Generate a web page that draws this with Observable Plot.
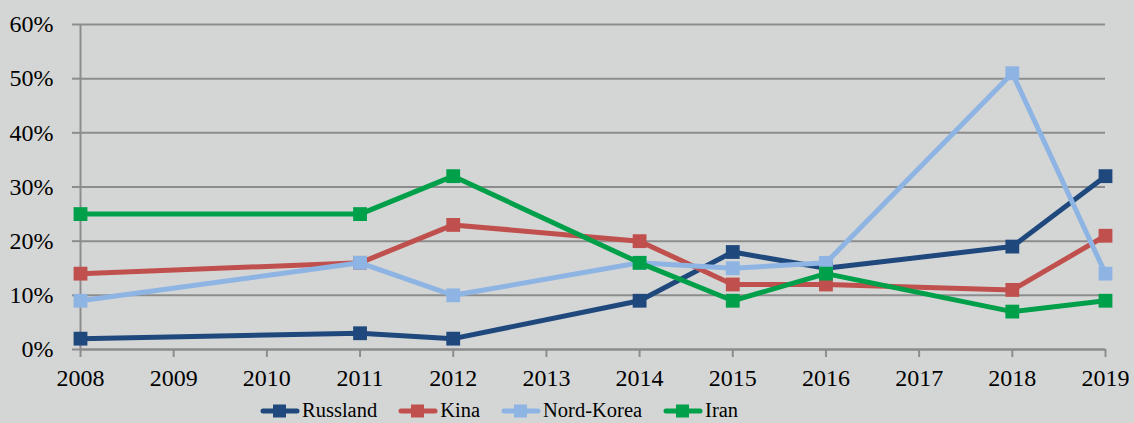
<!DOCTYPE html>
<html>
<head>
<meta charset="utf-8">
<script src="https://cdn.jsdelivr.net/npm/d3@7"></script>
<script src="https://cdn.jsdelivr.net/npm/@observablehq/plot@0.6"></script>
<style>
  html, body { margin: 0; padding: 0; background: #d4d6d5; }
  body { width: 1134px; height: 423px; overflow: hidden; font-family: "Liberation Serif", "Times New Roman", Times, "DejaVu Serif", serif; }
  #legend { display: flex; justify-content: flex-start; align-items: center; height: 25px; margin-top: 2px; font-size: 20.5px; color: #000; padding-left: 260px; }
  .item { display: flex; align-items: center; margin-right: 21px; }
  .item svg { margin-right: 2px; }
  svg text { font-family: "Liberation Serif", "Times New Roman", Times, "DejaVu Serif", serif !important; }
</style>
</head>
<body>
<div id="chart"></div>
<div id="legend"></div>
<script>
const years = [2008, 2011, 2012, 2014, 2015, 2016, 2018, 2019];
const seriesNames = ["Russland", "Kina", "Nord-Korea", "Iran"];
const russland = [2, 3, 2, 9, 18, 15, 19, 32];
const kina = [14, 16, 23, 20, 12, 12, 11, 21];
const nordKorea = [9, 16, 10, 16, 15, 16, 51, 14];
const iran = [25, 25, 32, 16, 9, 14, 7, 9];
const colors = ["#1f497d", "#c0504d", "#8eb4e3", "#00a04a"];
const yTicks = [0, 10, 20, 30, 40, 50, 60];
const xTicks = [2008, 2009, 2010, 2011, 2012, 2013, 2014, 2015, 2016, 2017, 2018, 2019];

const seriesValues = [russland, kina, nordKorea, iran];
const data = [];
seriesNames.forEach((s, i) => years.forEach((y, j) => data.push({series: s, year: y, value: seriesValues[i][j]})));

const gridColor = "#8c8c8c";
const marks = [
  Plot.gridY(yTicks, {stroke: gridColor, strokeOpacity: 1, strokeWidth: 2}),
  Plot.axisY(yTicks, {label: null, tickSize: 8, tickPadding: 19, stroke: gridColor, strokeWidth: 2, tickFormat: d => d + "%", fontSize: 24, fill: "#000"}),
  Plot.axisX(xTicks, {label: null, tickSize: 8, tickPadding: 11, stroke: gridColor, strokeWidth: 2, tickFormat: d => String(d), fontSize: 24, fill: "#000"}),
  Plot.ruleX([2008], {stroke: gridColor, strokeWidth: 2}),
  Plot.ruleY([0], {stroke: gridColor, strokeWidth: 2})
];
seriesNames.forEach((s, i) => {
  const d = data.filter(r => r.series === s);
  marks.push(Plot.line(d, {x: "year", y: "value", stroke: colors[i], strokeWidth: 5}));
  marks.push(Plot.dot(d, {x: "year", y: "value", symbol: "square", r: 7.8, fill: colors[i], stroke: "none"}));
});

const chart = Plot.plot({
  width: 1134,
  height: 396,
  marginLeft: 80,
  marginRight: 29,
  marginTop: 24,
  marginBottom: 47,
  style: {background: "#d4d6d5", fontFamily: "'Liberation Serif', 'Times New Roman', Times, 'DejaVu Serif', serif", fontSize: "24px", overflow: "visible"},
  x: {domain: [2008, 2019], axis: null},
  y: {domain: [0, 60], axis: null},
  marks
});
document.getElementById("chart").appendChild(chart);

const legend = document.getElementById("legend");
seriesNames.forEach((s, i) => {
  const item = document.createElement("div");
  item.className = "item";
  item.innerHTML = `<svg width="40" height="16"><line x1="3" x2="37" y1="8" y2="8" stroke="${colors[i]}" stroke-width="5" stroke-linecap="round"/><rect x="13" y="1.5" width="13" height="13" fill="${colors[i]}"/></svg><span>${s}</span>`;
  legend.appendChild(item);
});
</script>
</body>
</html>
